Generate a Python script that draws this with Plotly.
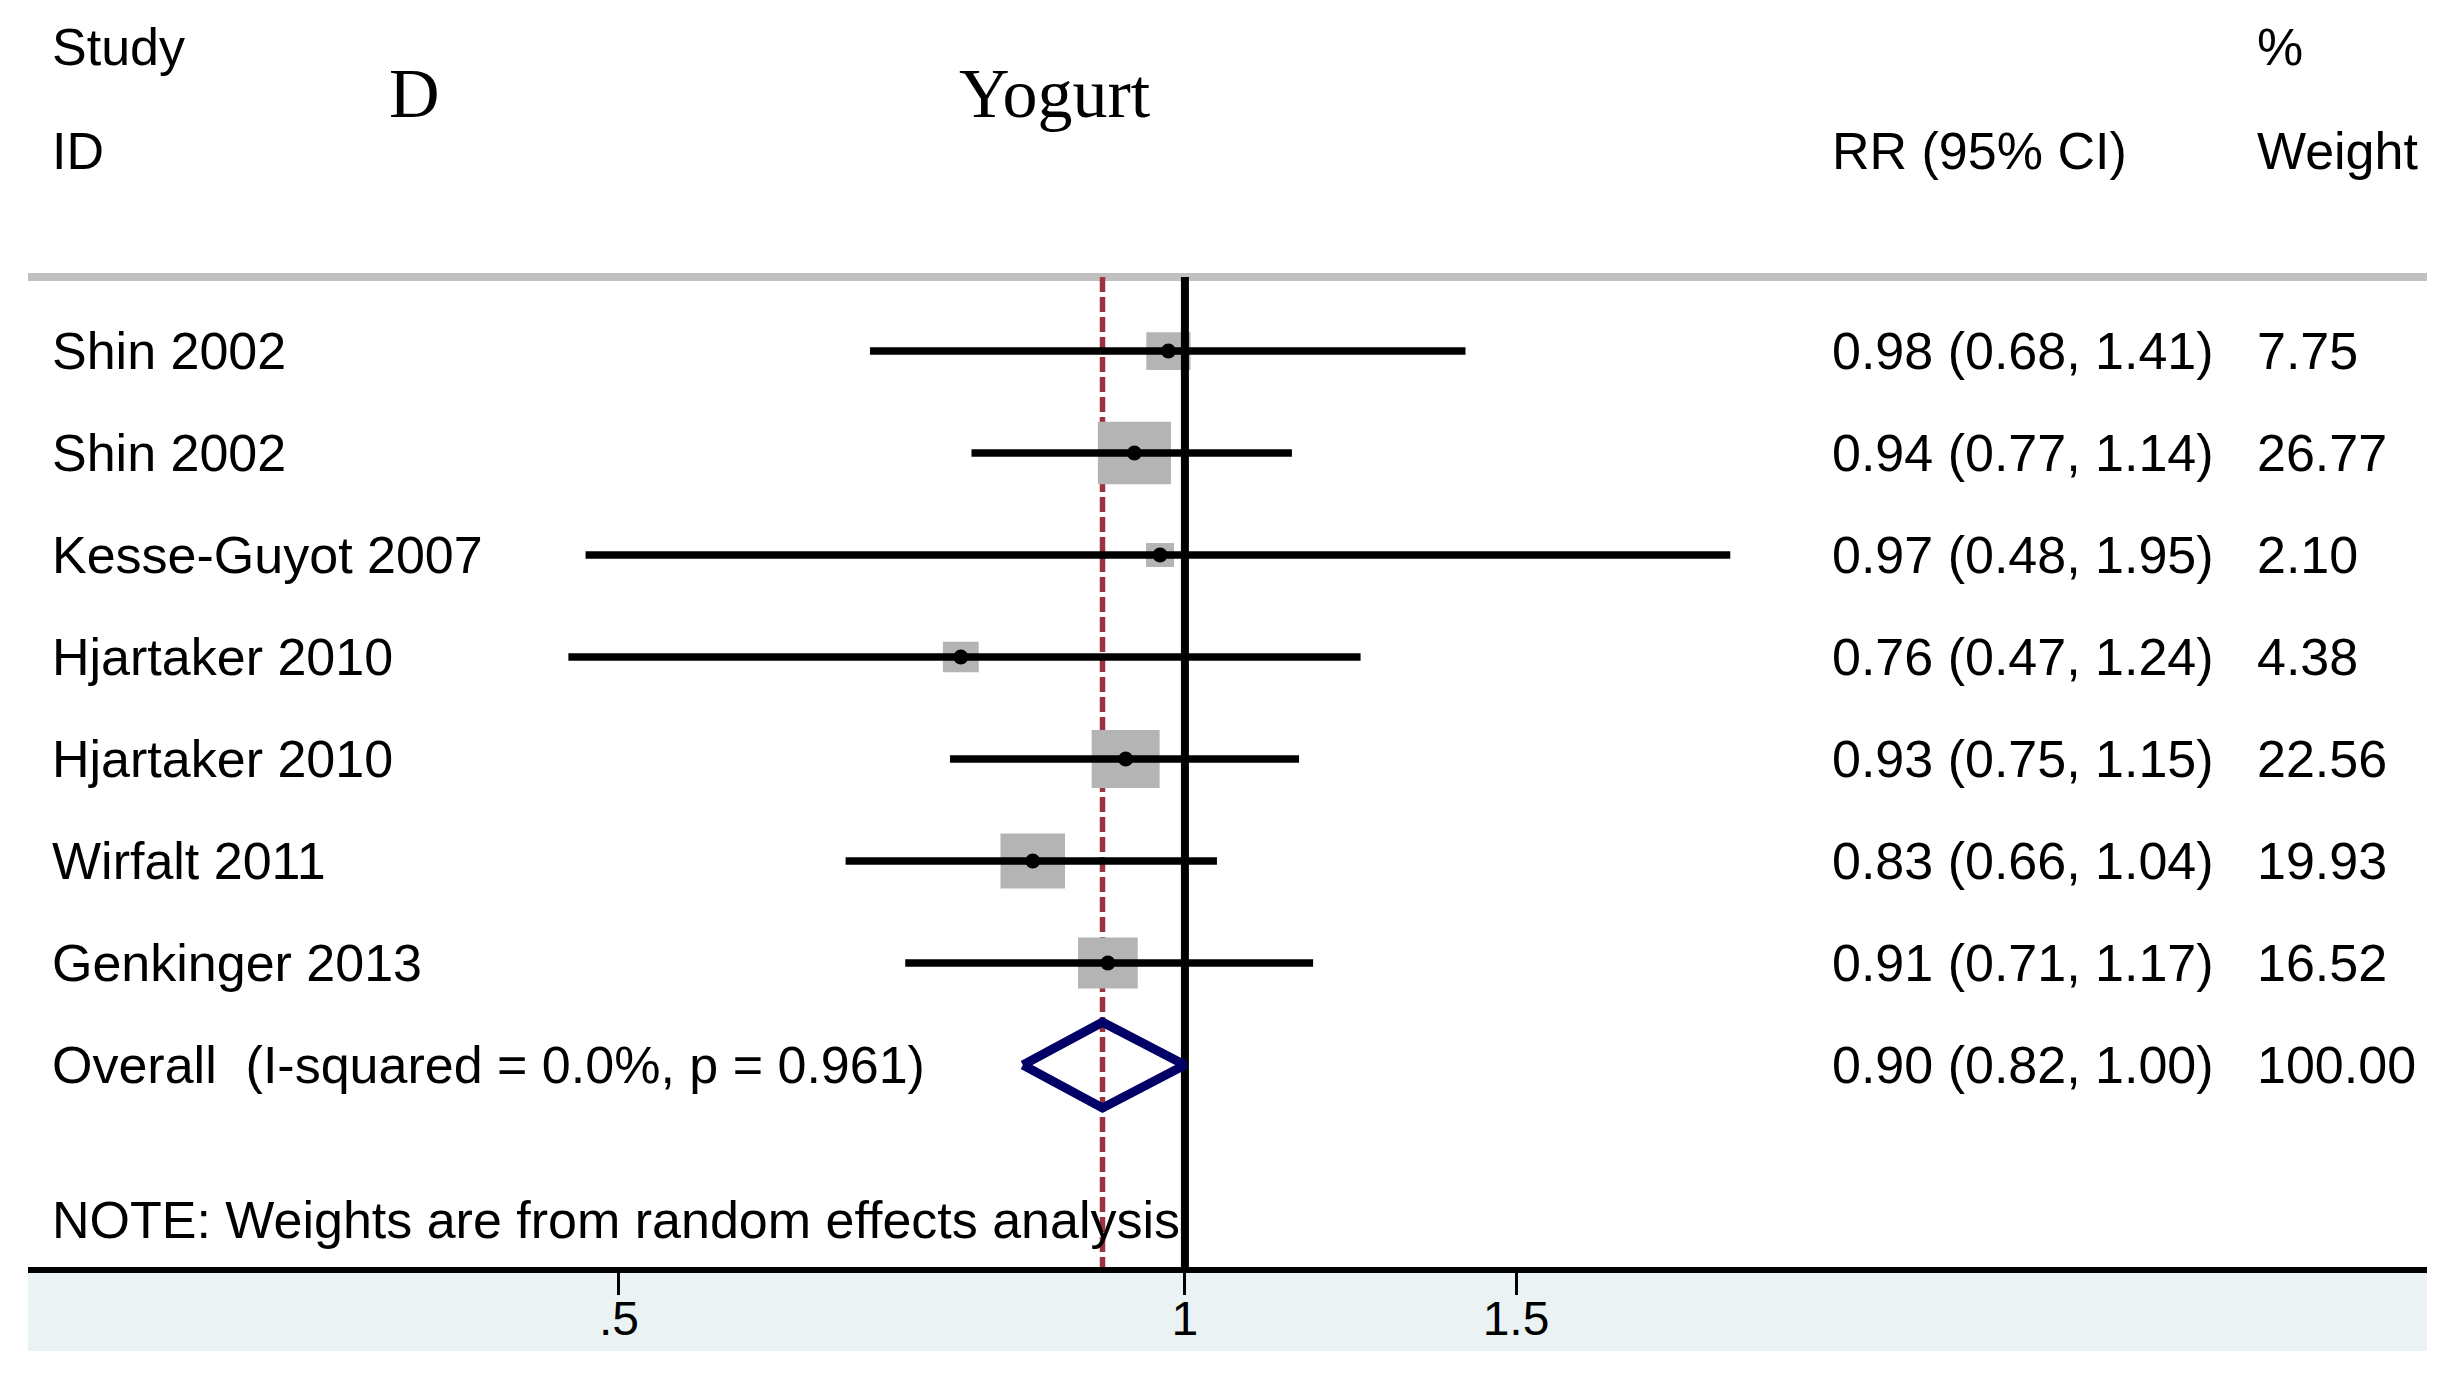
import numpy as np
import plotly.graph_objects as go

# study rows (top to bottom)
studies = ["Shin 2002", "Shin 2002", "Kesse-Guyot 2007", "Hjartaker 2010",
           "Hjartaker 2010", "Wirfalt 2011", "Genkinger 2013"]
rr = [0.98, 0.94, 0.97, 0.76, 0.93, 0.83, 0.91]
ci_low = [0.68, 0.77, 0.48, 0.47, 0.75, 0.66, 0.71]
ci_high = [1.41, 1.14, 1.95, 1.24, 1.15, 1.04, 1.17]
weights = [7.75, 26.77, 2.10, 4.38, 22.56, 19.93, 16.52]

overall_label = "Overall \u00a0(I-squared = 0.0%, p = 0.961)"
overall_rr = 0.904
overall_low = 0.82
overall_high = 1.00
overall_weight = 100.00

tick_vals = [0.5, 1, 1.5]
tick_text = [".5", "1", "1.5"]

# layout geometry (pixels); page body has an 8px margin
W, H = 2436, 1361
ML, MR, MT, MB = 20, 17, 0, 102
plot_w = W - ML - MR
plot_h = H - MT - MB
x_range = [np.log10(0.2425), np.log10(4.577)]
y_range = [9.98, -2.363]
px_per_dec = plot_w / (x_range[1] - x_range[0])
px_per_row = plot_h / (y_range[0] - y_range[1])

rows = list(range(1, len(studies) + 1))
overall_row = len(studies) + 1
line_top = 0.275

sans = "Liberation Sans, Arial, sans-serif"
serif = "Liberation Serif, Times New Roman, serif"
fs = 52

fig = go.Figure()

# dashed overall line
fig.add_trace(go.Scatter(x=[overall_rr, overall_rr], y=[line_top, y_range[0]], mode="lines",
                         line=dict(color="#9a3440", width=5.5, dash="15px,5px"),
                         hoverinfo="skip"))

# weight boxes
for r, y, w in zip(rr, rows, weights):
    bw = 10.5 + 12.1 * np.sqrt(w)
    bh = bw / 1.17
    hw = bw / 2 / px_per_dec
    hh = bh / 2 / px_per_row
    x0, x1 = r * 10 ** (-hw), r * 10 ** hw
    fig.add_trace(go.Scatter(x=[x0, x1, x1, x0, x0], y=[y - hh, y - hh, y + hh, y + hh, y - hh],
                             mode="lines", fill="toself", fillcolor="#b4b4b4",
                             line=dict(width=0, color="#b4b4b4"), hoverinfo="skip"))

# confidence intervals
cx, cy = [], []
for lo, hi, y in zip(ci_low, ci_high, rows):
    cx += [lo, hi, None]
    cy += [y, y, None]
fig.add_trace(go.Scatter(x=cx, y=cy, mode="lines", line=dict(color="black", width=7.5),
                         hoverinfo="skip"))

# point estimates
fig.add_trace(go.Scatter(x=rr, y=rows, mode="markers",
                         marker=dict(color="black", size=15, symbol="circle"),
                         hoverinfo="skip"))

# null line
fig.add_trace(go.Scatter(x=[1, 1], y=[line_top, y_range[0]], mode="lines",
                         line=dict(color="black", width=8), hoverinfo="skip"))

# overall diamond
dh = 0.42
fig.add_trace(go.Scatter(x=[overall_low, overall_rr, overall_high, overall_rr, overall_low],
                         y=[overall_row, overall_row - dh, overall_row, overall_row + dh, overall_row],
                         mode="lines", line=dict(color="#000066", width=9), hoverinfo="skip"))

annotations = []


def txt(x, y, s, size=fs, family=sans, anchor="left"):
    annotations.append(dict(x=x, y=y, xref="paper", yref="y", text=s, showarrow=False,
                            xanchor=anchor, yanchor="middle",
                            font=dict(family=family, size=size, color="black")))


col_label = (50 - 28) / plot_w
col_rr = (1830 - 28) / plot_w
col_wt = (2255 - 28) / plot_w

# header
txt(col_label, -1.98, "Study")
txt(col_label, -0.96, "ID")
txt((414 - 28) / plot_w, -1.52, "D", size=70, family=serif, anchor="center")
txt((1055 - 28) / plot_w, -1.52, "Yogurt", size=70, family=serif, anchor="center")
txt(col_rr, -0.96, "RR (95% CI)")
txt(col_wt, -1.98, "%")
txt(col_wt, -0.96, "Weight")

for s, r, lo, hi, w, y in zip(studies, rr, ci_low, ci_high, weights, rows):
    txt(col_label, y, s)
    txt(col_rr, y, f"{r:.2f} ({lo:.2f}, {hi:.2f})")
    txt(col_wt, y, f"{w:.2f}")

txt(col_label, overall_row, overall_label)
txt(col_rr, overall_row, f"{overall_rr:.2f} ({overall_low:.2f}, {overall_high:.2f})")
txt(col_wt, overall_row, f"{overall_weight:.2f}")

txt(col_label, 9.52, "NOTE: Weights are from random effects analysis")

shapes = [
    # light band under the axis
    dict(type="rect", xref="paper", yref="paper", x0=0, x1=1.0, y0=-84 / plot_h, y1=0,
         fillcolor="#eaf2f3", line=dict(width=0), layer="below"),
    # header separator
    dict(type="line", xref="paper", yref="y", x0=0, x1=1.0, y0=line_top, y1=line_top,
         line=dict(color="#c0c0c0", width=8), layer="below"),
]

fig.update_layout(
    width=W, height=H,
    margin=dict(l=ML, r=MR, t=MT, b=MB),
    paper_bgcolor="white", plot_bgcolor="white",
    showlegend=False,
    annotations=annotations,
    shapes=shapes,
    xaxis=dict(type="log", range=x_range, tickvals=tick_vals, ticktext=tick_text,
               ticks="outside", ticklen=22, tickwidth=3, tickcolor="black",
               ticklabelstandoff=-18,
               showline=True, linewidth=6, linecolor="black", showgrid=False, zeroline=False,
               tickfont=dict(family=sans, size=48, color="black"), fixedrange=True),
    yaxis=dict(range=y_range, visible=False, showgrid=False, zeroline=False, fixedrange=True),
)

fig.write_html("out.html")
